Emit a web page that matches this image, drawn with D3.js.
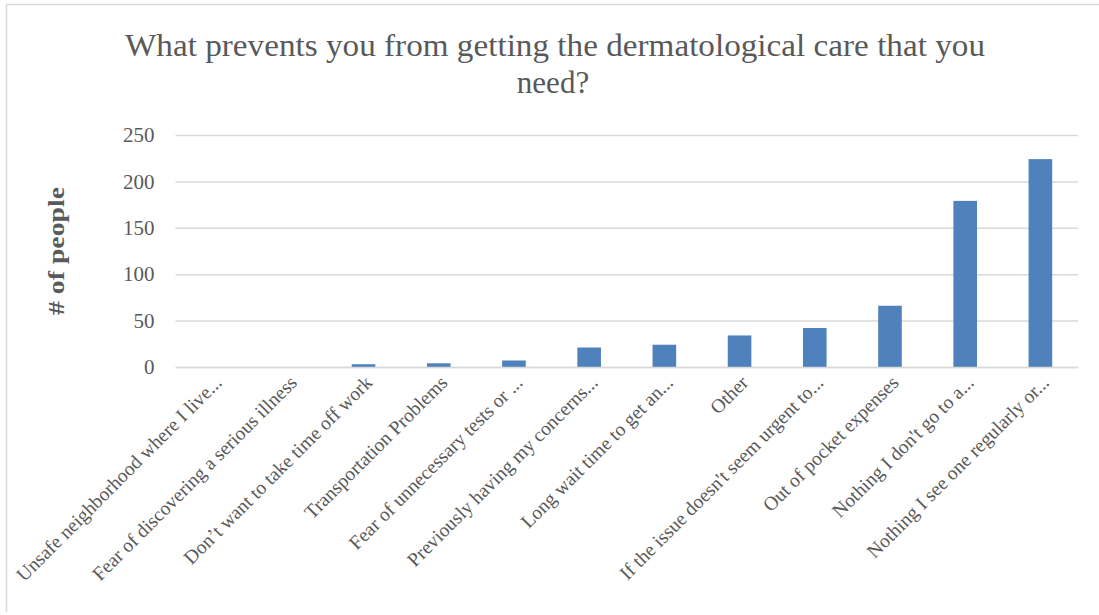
<!DOCTYPE html>
<html>
<head>
<meta charset="utf-8">
<script src="https://cdn.jsdelivr.net/npm/d3@7"></script>
<style>
  html, body { margin: 0; padding: 0; background: #fff; }
  svg { display: block; }
  text { font-family: "Liberation Serif", "Times New Roman", serif; fill: #595959; }
</style>
</head>
<body>
<svg id="chart" width="1099" height="615"></svg>
<script>
// Survey responses: barriers to getting dermatological care
const categories = [
  "Unsafe neighborhood where I live...",
  "Fear of discovering a serious illness",
  "Don\u2019t want to take time off work",
  "Transportation Problems",
  "Fear of unnecessary tests or ...",
  "Previously having my concerns...",
  "Long wait time to get an...",
  "Other",
  "If the issue doesn't seem urgent to...",
  "Out of pocket expenses",
  "Nothing I don't go to a...",
  "Nothing I see one regularly or..."
];
const counts = [0, 0, 3, 4, 7, 21, 24, 34, 42, 66, 179, 224];
const yTicks = [0, 50, 100, 150, 200, 250];
const titleLines = ["What prevents you from getting the dermatological care that you", "need?"];
const yTitle = "# of people";

const svg = d3.select("#chart");
const W = 1099, H = 615;
const plot = { left: 175.5, right: 1078, top: 135, bottom: 367 };

// chart frame (top and left edges)
svg.append("line").attr("x1", 6.5).attr("x2", W).attr("y1", 4.5).attr("y2", 4.5)
  .attr("stroke", "#d9d9d9").attr("stroke-width", 1.5);
svg.append("line").attr("x1", 6.5).attr("x2", 6.5).attr("y1", 4.5).attr("y2", 612)
  .attr("stroke", "#d9d9d9").attr("stroke-width", 1.5);

const x = d3.scaleBand().domain(categories).range([plot.left, plot.right])
  .paddingInner(0.686).paddingOuter(0.343);
const y = d3.scaleLinear().domain([0, 250]).range([plot.bottom, plot.top]);

// horizontal gridlines
const grid = svg.append("g").attr("transform", `translate(${plot.left},0)`)
  .call(d3.axisLeft(y).tickValues(yTicks).tickSize(-(plot.right - plot.left)).tickFormat(""));
grid.select(".domain").remove();
grid.selectAll(".tick line").attr("stroke", "#d9d9d9").attr("stroke-width", 1.5);

// y tick labels
const yAxis = svg.append("g").attr("transform", `translate(${plot.left},0)`)
  .call(d3.axisLeft(y).tickValues(yTicks).tickSize(0).tickPadding(21));
yAxis.select(".domain").remove();
yAxis.selectAll("text").attr("font-size", 21).attr("font-family", "Liberation Serif")
  .attr("fill", "#595959");

// bars
svg.append("g").selectAll("rect").data(counts).join("rect")
  .attr("x", (d, i) => x(categories[i]))
  .attr("width", x.bandwidth())
  .attr("y", d => y(d))
  .attr("height", d => y(0) - y(d))
  .attr("fill", "#4f81bd");

// category axis
const xAxis = svg.append("g").attr("transform", `translate(0,${plot.bottom})`)
  .call(d3.axisBottom(x).tickSize(0).tickPadding(0));
xAxis.select(".domain").attr("stroke", "#d9d9d9").attr("stroke-width", 1.5);
xAxis.selectAll(".tick text")
  .attr("font-size", 19.5).attr("font-family", "Liberation Serif").attr("fill", "#595959")
  .attr("text-anchor", "end")
  .attr("transform", "translate(0,7) rotate(-45)")
  .attr("x", 0).attr("y", 0).attr("dy", "0.71em");

// axis title
svg.append("text")
  .attr("transform", `translate(64,251) rotate(-90)`)
  .attr("text-anchor", "middle")
  .attr("font-size", 24).attr("font-weight", "bold")
  .attr("textLength", 128).attr("lengthAdjust", "spacingAndGlyphs")
  .text(yTitle);

// chart title
svg.append("text").attr("x", 555).attr("y", 56).attr("text-anchor", "middle")
  .attr("font-size", 31)
  .attr("textLength", 860).attr("lengthAdjust", "spacingAndGlyphs")
  .text(titleLines[0]);
svg.append("text").attr("x", 553).attr("y", 93).attr("text-anchor", "middle")
  .attr("font-size", 31)
  .text(titleLines[1]);
</script>
</body>
</html>
